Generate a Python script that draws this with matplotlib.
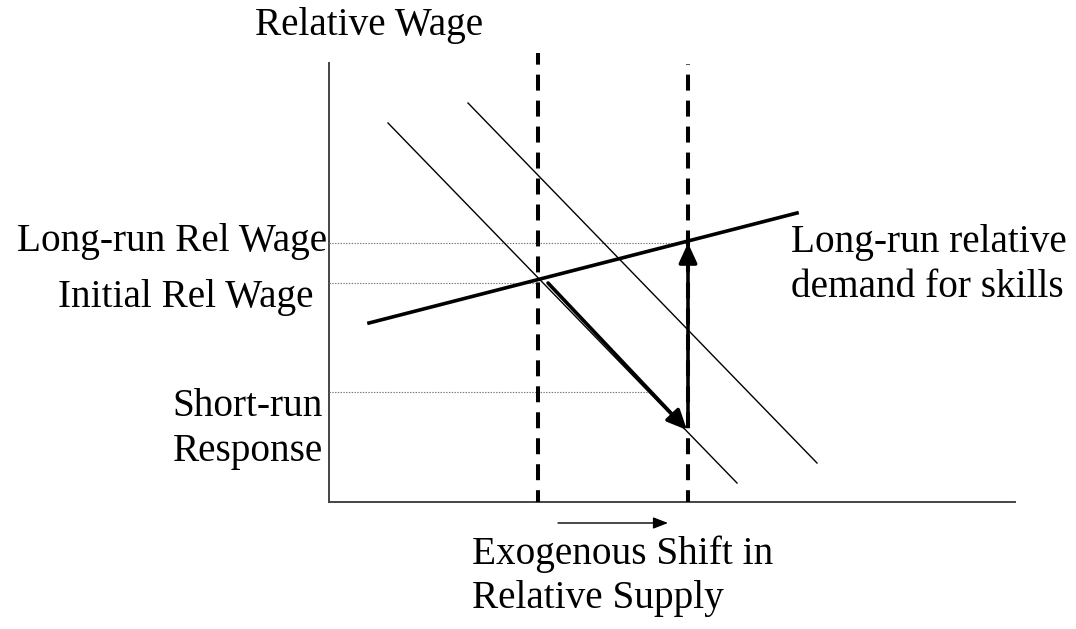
import matplotlib.pyplot as plt

plt.rcParams['font.family'] = ['Liberation Serif', 'DejaVu Serif']
plt.rcParams['lines.scale_dashes'] = False

# diagram units: origin at the axes corner
axis_len_x = 686
axis_len_y = 439

supply_old = 209
supply_new = 359
supply_top = [449, 438]

demand_short_x = [59, 408]
demand_short_y = [379, 19]
demand_shifted_x = [139, 488]
demand_shifted_y = [399, 39]
longrun_x = [40, 468]
longrun_y = [179, 289]

wage_longrun = 259
wage_initial = 219
wage_shortrun = 110
wage_guides_end = [359, 209, 319]

fig = plt.figure(figsize=(10.76, 6.29), dpi=100)
ax = fig.add_axes([0, 0, 1, 1])
ax.set_xlim(-329, 747)
ax.set_ylim(-127, 502)
ax.axis('off')

# axes of the diagram
ax.plot([0, 0], [0, axis_len_y], color='#444444', lw=1.4)
ax.plot([0, axis_len_x], [0, 0], color='#444444', lw=1.4)

# dotted wage guides
for w, xe in zip([wage_longrun, wage_initial, wage_shortrun], wage_guides_end):
    ax.plot([0, xe], [w, w], color='#777777', lw=0.8, linestyle=(0, (1, 1)))

# relative supply (dashed verticals)
for s, top in zip([supply_old, supply_new], supply_top):
    ax.plot([s, s], [0, top], color='black', lw=2.9, linestyle=(3, (11.5, 7.2)))

# relative demand curves
ax.plot(demand_short_x, demand_short_y, color='black', lw=1.0)
ax.plot(demand_shifted_x, demand_shifted_y, color='black', lw=1.0)
ax.plot(longrun_x, longrun_y, color='black', lw=2.6)

# short-run and long-run adjustment arrows
arr = dict(arrowstyle='-|>,head_length=1.2,head_width=0.55', color='black', lw=2.6,
           shrinkA=0, shrinkB=0)
ax.annotate('', xy=(supply_new - 1, 72), xytext=(219, wage_initial), arrowprops=arr)
ax.annotate('', xy=(supply_new, wage_longrun), xytext=(supply_new, 80), arrowprops=arr)
ax.annotate('', xy=(339, -21), xytext=(229, -21),
            arrowprops=dict(arrowstyle='-|>,head_length=0.9,head_width=0.35', color='black',
                            lw=1.0, shrinkA=0, shrinkB=0))

fs = 28.3
ls = 1.27
ax.text(40, 476, 'Relative Wage', fontsize=fs, ha='center', va='center')
ax.text(-2, wage_longrun + 2, 'Long-run Rel Wage', fontsize=fs, ha='right', va='center')
ax.text(-15, wage_initial - 15, 'Initial Rel Wage', fontsize=fs, ha='right', va='center')
ax.text(-6, 73, 'Short-run\nResponse', fontsize=fs, ha='right', va='center',
        multialignment='right', linespacing=ls)
ax.text(462, 237, 'Long-run relative\ndemand for skills', fontsize=fs, ha='left',
        va='center', linespacing=ls)
ax.text(143, -74, 'Exogenous Shift in\nRelative Supply', fontsize=fs, ha='left',
        va='center', linespacing=ls)

fig.savefig('out.png', dpi=100)
